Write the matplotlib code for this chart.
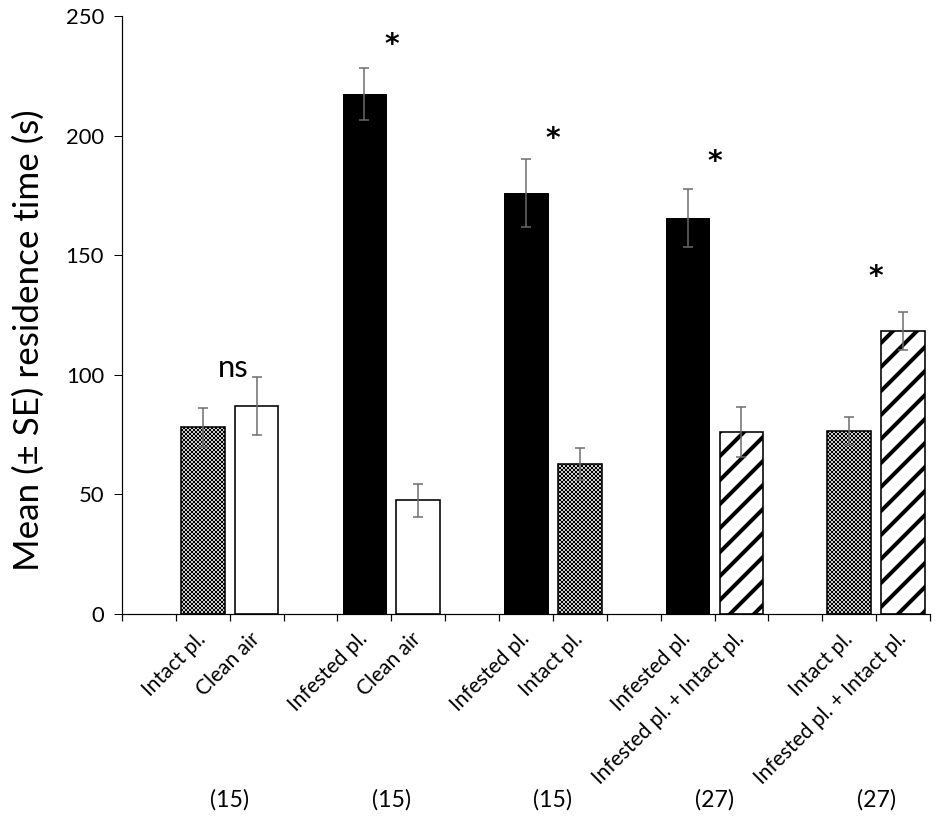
import matplotlib
matplotlib.use("Agg")
import matplotlib.pyplot as plt

plt.rcParams['font.family'] = ['Lato', 'DejaVu Sans']

# one entry per category slot on the x axis (empty slots separate the pairs)
labels = ["", "Intact pl.", "Clean air",
          "", "Infested pl.", "Clean air",
          "", "Infested pl.", "Intact pl.",
          "", "Infested pl.", "Infested pl. + Intact pl.",
          "", "Intact pl.", "Infested pl. + Intact pl."]
means = [None, 78, 87,
         None, 217.5, 47.5,
         None, 176, 62.7,
         None, 165.5, 76,
         None, 76.5, 118.2]
se = [None, 8.2, 12,
      None, 10.8, 6.8,
      None, 14.2, 6.7,
      None, 12.1, 10.5,
      None, 6, 8]
styles = [None, "check", "white",
          None, "black", "white",
          None, "black", "check",
          None, "black", "stripe",
          None, "check", "stripe"]

# significance marks: (x boundary, y, text)
sig_x = [2.07, 5, 8, 11, 14]
sig_y = [103, 238, 198.5, 189, 141]
sig_txt = ["ns", "*", "*", "*", "*"]
n_sizes = ["(15)", "(15)", "(15)", "(27)", "(27)"]

fig = plt.figure(figsize=(935 / 72, 834 / 72), dpi=72)
ax = fig.add_axes([122 / 935, 1 - 614 / 834, 808 / 935, 598 / 834])

for i, (m, s, st) in enumerate(zip(means, se, styles)):
    if m is None:
        continue
    x = i + 0.5
    if st == "black":
        ax.bar(x, m, width=0.81, color="black", edgecolor="black", linewidth=1, zorder=2)
    elif st == "white":
        ax.bar(x, m, width=0.81, color="white", edgecolor="black", linewidth=1.6, zorder=2)
    elif st == "check":
        plt.rcParams['hatch.linewidth'] = 0.9
        ax.bar(x, m, width=0.81, color="white", edgecolor="black", hatch="xxxxxx",
               linewidth=1.6, zorder=2)
    else:
        plt.rcParams['hatch.linewidth'] = 4.0
        ax.bar(x, m, width=0.81, color="white", edgecolor="black", hatch="/",
               linewidth=1.6, zorder=2)
    ax.errorbar(x, m, yerr=s, fmt="none", ecolor="#6b6b6b", elinewidth=1.5,
                capsize=5, capthick=1.5, zorder=3)

ax.set_xlim(0, 15)
ax.set_ylim(0, 250)
ax.set_yticks([0, 50, 100, 150, 200, 250])
ax.tick_params(axis="y", labelsize=22, length=8, width=1, direction="out", pad=10)
ax.set_ylabel("Mean (± SE) residence time (s)", fontsize=35, va="center")
ax.yaxis.set_label_coords(-0.116, 0.458)

# tick marks at slot borders, labels at slot centres
ax.set_xticks(range(16))
ax.set_xticklabels([])
ax.set_xticks([i + 0.5 for i in range(15)], minor=True)
ax.set_xticklabels(labels, minor=True, rotation=45, ha="right", va="center",
                   rotation_mode="anchor", fontsize=21)
ax.tick_params(axis="x", which="major", length=7, width=1.2, direction="out")
ax.tick_params(axis="x", which="minor", length=0, pad=22)

for side in ["top", "right"]:
    ax.spines[side].set_visible(False)
ax.spines["left"].set_linewidth(1.2)
ax.spines["bottom"].set_linewidth(1.2)

for x, y, t in zip(sig_x, sig_y, sig_txt):
    if t == "ns":
        ax.text(x, y, t, ha="center", va="center", fontsize=31)
    else:
        ax.text(x, y, t, ha="center", va="center", fontsize=28, fontweight="bold",
                family="DejaVu Sans")

for x, t in zip(sig_x, n_sizes):
    xx = round(x)
    ax.text(xx, -0.31, t, transform=ax.get_xaxis_transform(), ha="center", va="center",
            fontsize=23)

fig.savefig("out.png", dpi=72)
